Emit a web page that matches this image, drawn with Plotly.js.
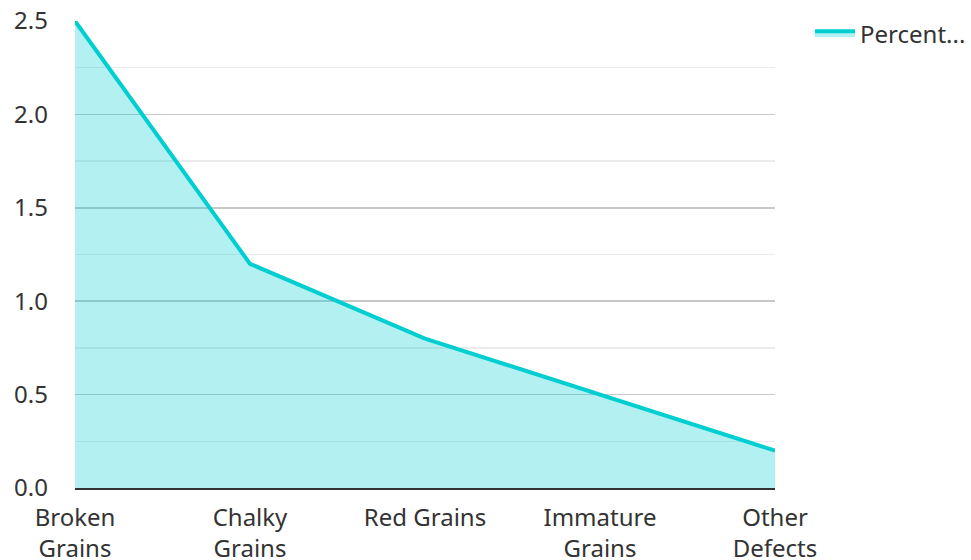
<!DOCTYPE html>
<html>
<head>
<meta charset="utf-8">
<script src="https://cdn.plot.ly/plotly-3.0.1.min.js"></script>
<style>html,body{margin:0;padding:0;background:#fff;}#chart{width:971px;height:560px;}</style>
</head>
<body>
<div id="chart"></div>
<script>
const categories = ["Broken<br>Grains", "Chalky<br>Grains", "Red Grains", "Immature<br>Grains", "Other<br>Defects"];
const percentValues = [2.5, 1.2, 0.8, 0.5, 0.2];
const seriesName = "Percent...";

const trace = {
  x: categories,
  y: percentValues,
  type: "scatter",
  mode: "lines",
  name: seriesName,
  fill: "tozeroy",
  fillcolor: "rgba(0,206,209,0.3)",
  line: {color: "#00CED1", width: 4},
  hoverinfo: "x+y"
};

const layout = {
  width: 971,
  height: 560,
  margin: {l: 75, r: 196, t: 21, b: 72, autoexpand: false},
  paper_bgcolor: "#fff",
  plot_bgcolor: "#fff",
  font: {family: "Noto Sans, Open Sans, sans-serif", size: 24, color: "#333"},
  showlegend: true,
  legend: {x: 1.05, xanchor: "left", y: 1.021, yanchor: "top", font: {size: 24, color: "#333"}, itemwidth: 40},
  xaxis: {
    type: "category",
    range: [0, 4],
    showgrid: false,
    showline: true,
    linecolor: "#333",
    linewidth: 2,
    ticks: "",
    ticklabelstandoff: 7,
    tickfont: {size: 24, color: "#333"},
    zeroline: false,
    automargin: false,
    fixedrange: true
  },
  yaxis: {
    range: [0, 2.5],
    dtick: 0.5,
    tick0: 0,
    tickformat: ".1f",
    showgrid: true,
    gridcolor: "#c8c8c8",
    gridwidth: 1.5,
    minor: {dtick: 0.25, showgrid: true, gridcolor: "#ebebeb", gridwidth: 1.5},
    showline: false,
    zeroline: false,
    ticks: "",
    ticklabelstandoff: 26,
    tickfont: {size: 24, color: "#333"},
    automargin: false,
    fixedrange: true
  }
};

Plotly.newPlot("chart", [trace], layout, {displayModeBar: false, staticPlot: true});
</script>
</body>
</html>
